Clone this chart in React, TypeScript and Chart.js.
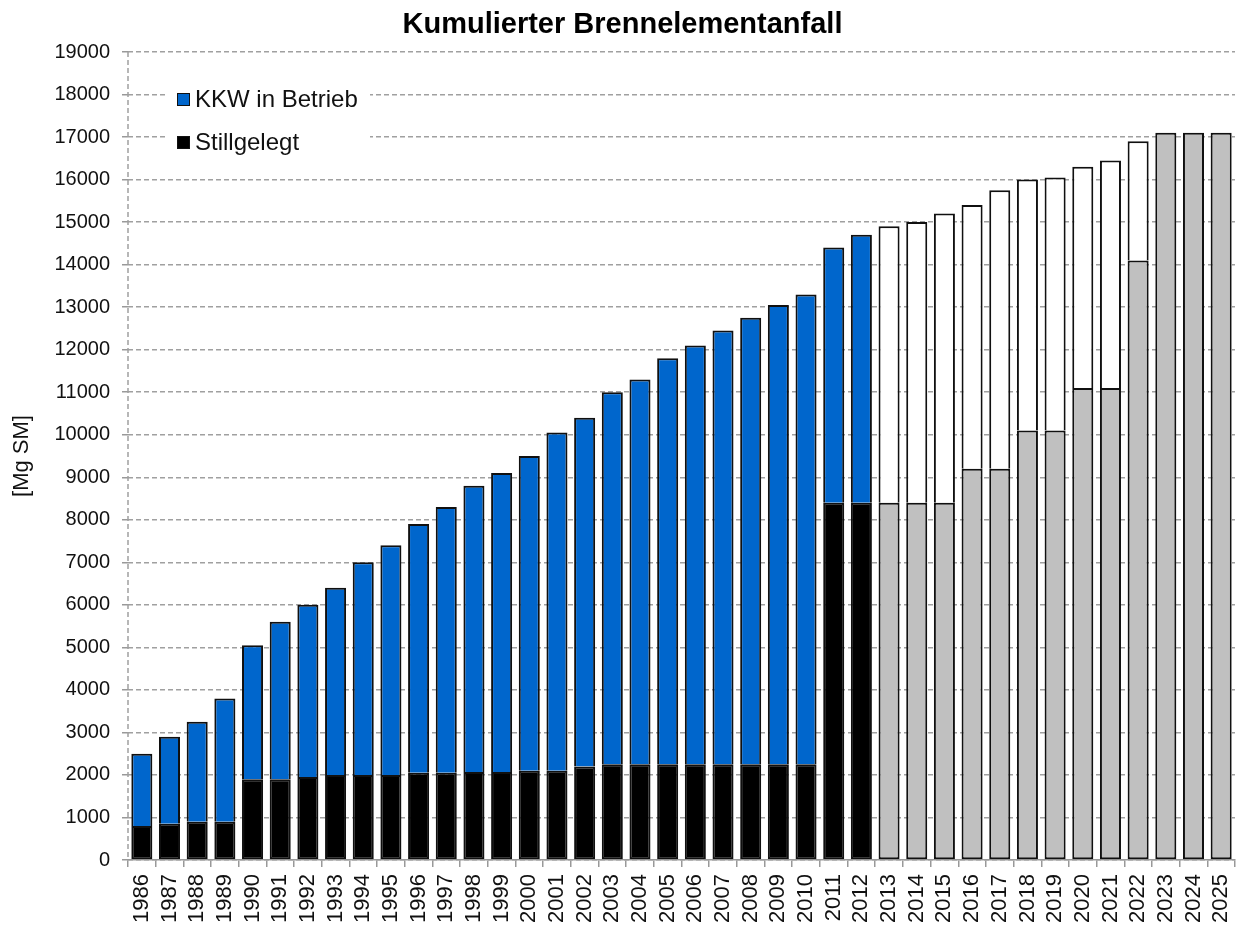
import React, { useEffect, useRef } from "react";
import { Chart, registerables } from "chart.js";

Chart.register(...registerables);

const years = [
  1986, 1987, 1988, 1989, 1990, 1991, 1992, 1993, 1994, 1995,
  1996, 1997, 1998, 1999, 2000, 2001, 2002, 2003, 2004, 2005,
  2006, 2007, 2008, 2009, 2010, 2011, 2012, 2013, 2014, 2015,
  2016, 2017, 2018, 2019, 2020, 2021, 2022, 2023, 2024, 2025,
];

// Stillgelegt (bottom segment)
const stillgelegt = [
  800, 850, 900, 900, 1900, 1900, 1950, 2000, 2000, 2000,
  2050, 2050, 2070, 2070, 2100, 2100, 2200, 2250, 2250, 2250,
  2250, 2250, 2250, 2250, 2250, 8400, 8400, 8400, 8400, 8400,
  9200, 9200, 10100, 10100, 11100, 11100, 14100, 17100, 17100, 17100,
];

// KKW in Betrieb (top segment)
const inBetrieb = [
  1700, 2050, 2350, 2900, 3150, 3700, 4050, 4400, 5000, 5400,
  5850, 6250, 6730, 7030, 7400, 7950, 8200, 8750, 9050, 9550,
  9850, 10200, 10500, 10800, 11050, 6000, 6300, 6500, 6600, 6800,
  6200, 6550, 5900, 5950, 5200, 5350, 2800, 0, 0, 0,
];

const lastHistoricYear = 2012;
const yMin = 0;
const yMax = 19000;
const yStep = 1000;

const titleText = "Kumulierter Brennelementanfall";
const yAxisTitle = "[Mg SM]";
const legendLabels = ["KKW in Betrieb", "Stillgelegt"];

const FONT = '"Liberation Sans", Arial, Helvetica, sans-serif';
const BLUE = "#0066CC";
const BLACK = "#000000";
const GRAY = "#C0C0C0";
const WHITE = "#FFFFFF";
const GRID = "#a0a0a0";
const EDGE = "#101010";

export default function App() {
  const ref = useRef<HTMLCanvasElement>(null);

  useEffect(() => {
    const canvas = ref.current;
    if (!canvas) return;

    const overlay = {
      id: "overlay",
      beforeDatasetsDraw(chart: any) {
        const { ctx, chartArea } = chart;
        ctx.save();
        // dashed vertical y axis line
        ctx.strokeStyle = GRID;
        ctx.lineWidth = 1.5;
        ctx.setLineDash([5, 3]);
        ctx.beginPath();
        ctx.moveTo(chartArea.left, chartArea.top);
        ctx.lineTo(chartArea.left, chartArea.bottom);
        ctx.stroke();
        ctx.setLineDash([]);

        // legend (inside plot, top-left)
        ctx.fillStyle = WHITE;
        ctx.fillRect(166, 80, 204, 76);
        const items = [
          { label: legendLabels[0], color: BLUE, y: 93, base: 107 },
          { label: legendLabels[1], color: BLACK, y: 136, base: 150 },
        ];
        ctx.font = `24px ${FONT}`;
        ctx.textAlign = "left";
        ctx.textBaseline = "alphabetic";
        for (const it of items) {
          ctx.fillStyle = it.color;
          ctx.fillRect(177, it.y, 13, 13);
          ctx.strokeStyle = "#111";
          ctx.lineWidth = 1;
          ctx.strokeRect(177.5, it.y + 0.5, 12, 12);
          ctx.fillStyle = "#111";
          ctx.fillText(it.label, 195, it.base);
        }
        ctx.restore();
      },
      afterDraw(chart: any) {
        const { ctx, width } = chart;
        ctx.save();
        ctx.font = `bold 29px ${FONT}`;
        ctx.fillStyle = "#000";
        ctx.textAlign = "center";
        ctx.textBaseline = "alphabetic";
        ctx.fillText(titleText, width / 2 + 3, 33);
        ctx.restore();
      },
    };

    const isHistoric = (y: number) => y <= lastHistoricYear;

    const chart = new Chart(canvas, {
      type: "bar",
      data: {
        labels: years.map(String),
        datasets: [
          {
            label: legendLabels[1],
            data: stillgelegt,
            backgroundColor: years.map((y) => (isHistoric(y) ? BLACK : GRAY)),
            borderColor: EDGE,
            borderWidth: 2,
            borderSkipped: false,
            barPercentage: 0.76,
            categoryPercentage: 1.0,
            stack: "s",
          },
          {
            label: legendLabels[0],
            data: inBetrieb,
            backgroundColor: years.map((y) => (isHistoric(y) ? BLUE : WHITE)),
            borderColor: EDGE,
            borderWidth: (c: any) => (c.raw ? 2 : 0),
            borderSkipped: "start",
            barPercentage: 0.76,
            categoryPercentage: 1.0,
            stack: "s",
          },
        ],
      },
      options: {
        responsive: false,
        maintainAspectRatio: false,
        animation: false,
        devicePixelRatio: 1,
        layout: { padding: { top: 52, right: 4, left: 0, bottom: 0 } },
        plugins: {
          legend: { display: false },
          title: { display: false },
          tooltip: { enabled: false },
        },
        scales: {
          x: {
            stacked: true,
            offset: true,
            grid: {
              offset: true,
              drawOnChartArea: false,
              drawTicks: true,
              tickLength: 7,
              color: "#999",
              lineWidth: 1.5,
            },
            border: { display: true, color: "#999", width: 1.5 },
            ticks: {
              autoSkip: false,
              maxRotation: 90,
              minRotation: 90,
              padding: 7,
              color: "#111",
              font: { family: FONT, size: 22 },
            },
            afterFit: (s: any) => {
              s.height = 68;
              s.paddingLeft = 0;
              s.paddingRight = 0;
            },
          },
          y: {
            stacked: true,
            min: yMin,
            max: yMax,
            ticks: {
              stepSize: yStep,
              padding: 12,
              color: "#111",
              font: { family: FONT, size: 20 },
              callback: (v: any) => String(v),
            },
            grid: {
              color: GRID,
              lineWidth: 1.5,
              tickLength: 6,
              tickColor: "#999",
              tickBorderDash: [],
            },
            border: { display: false, dash: [5, 3] },
            title: {
              display: true,
              text: yAxisTitle,
              color: "#111",
              font: { family: FONT, size: 22 },
              padding: { top: 9, bottom: 0 },
            },
            afterFit: (s: any) => {
              s.width = 128;
            },
          },
        },
      },
      plugins: [overlay],
    });

    return () => chart.destroy();
  }, []);

  return (
    <div
      style={{
        position: "fixed",
        left: 0,
        top: 0,
        width: 1239,
        height: 928,
        background: "#fff",
      }}
    >
      <canvas ref={ref} width={1239} height={928} style={{ display: "block" }} />
    </div>
  );
}
